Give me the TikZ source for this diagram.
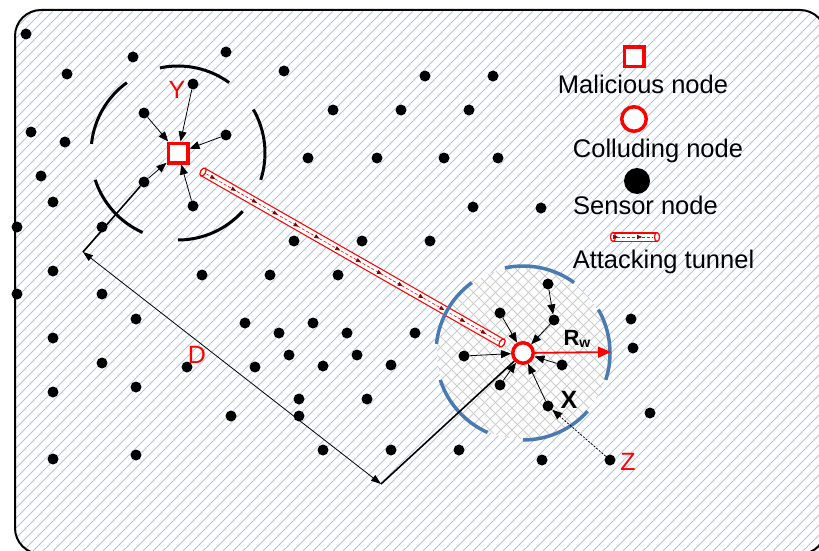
\documentclass[tikz,border=0pt]{standalone}
\usepackage{fontspec}
\setmainfont{Liberation Sans}
\usetikzlibrary{arrows.meta,calc,shapes.geometric,decorations.markings}

\definecolor{hatchblue}{RGB}{172,195,232}
\definecolor{ringblue}{RGB}{74,122,178}
\definecolor{meshgray}{RGB}{205,205,205}

\tikzset{
 sensor/.style={circle,fill=black,inner sep=0pt,minimum size=11pt},
 malicious/.style={draw=red,line width=3.5pt,fill=white,inner sep=0pt,minimum size=19.5pt},
 colluding/.style={circle,draw=red,line width=3.5pt,fill=white,inner sep=0pt,minimum size=20.5pt},
 feed/.style={line width=0.8pt,-{Triangle[length=10pt,width=8pt]}},
 ring/.style={line width=3pt},
 tube/.style={red,line width=1.2pt,double=white,double distance=7pt},
 tubecap/.style={ellipse,draw=red,line width=1.2pt,fill=white,inner sep=0pt,minimum width=5pt,minimum height=9pt},
 tubeflow/.style={red,line width=0.6pt,dash pattern=on 3pt off 2pt,postaction={decorate},
  decoration={markings,mark=between positions 0.03 and 1 step 24pt with {\arrow[red!50!black]{Triangle[length=5pt,width=4pt]}}}},
 lbl/.style={red,anchor=base,font=\fontsize{25}{28}\selectfont},
 legtext/.style={anchor=base,font=\fontsize{25.5}{28}\selectfont},
}

\begin{document}
\begin{tikzpicture}[x=1pt,y=-1pt]
\useasboundingbox (0,0) rectangle (819,551);

% the field
\begin{scope}
\clip [rounded corners=26pt] (15,10) rectangle (826,554);
\foreach \i in {-540,-530,...,830}
 \draw [hatchblue,line width=1pt] (\i,554)--(\i+544,10);
\end{scope}
\draw [line width=2pt,rounded corners=26pt] (15,10) rectangle (826,554);

% area around the colluding node
\coordinate (cc) at (523,353);
\coordinate (yc) at (178,153);
\begin{scope}
\clip (cc) circle (86pt);
\fill [white] (cc) circle (86pt);
\foreach \i in {-187,-176,...,187} {
 \draw [meshgray,line width=0.9pt] ([shift={(\i-100,-100)}]cc)--([shift={(\i+100,100)}]cc);
 \draw [meshgray,line width=0.9pt] ([shift={(\i-100,100)}]cc)--([shift={(\i+100,-100)}]cc);
}
\end{scope}

% tunnel
\coordinate (t1) at (203,172);
\coordinate (t2) at (502,343);
\draw [tube] (t1)--(t2);
\path (t1)--(t2) node [tubecap,sloped,pos=0] (ta) {} node [tubecap,sloped,pos=1] (tb) {};
\coordinate (f1) at ($(t1)!4pt!(t2)$);
\coordinate (f2) at ($(t2)!4pt!(t1)$);
\draw [tubeflow] (f1)--(f2);

% radio ranges
\foreach \a in {-18,54,126,198,270} {
 \draw [ring] ([shift={(\a:87pt)}]yc) arc [start angle=\a,delta angle=48,radius=87pt];
 \draw [ring,ringblue,line width=3.5pt] ([shift={(\a:87pt)}]cc) arc [start angle=\a,delta angle=48,radius=87pt];
}

% sensors
\foreach \p [count=\k] in {(26,34),(133,57),(226,52),(67,74),(284,71),(425,76),(493,76),
 (333,110),(401,110),(469,110),(31,132),(65,142),(308,158),(377,158),(444,158),(498,158),
 (41,176),(53,202),(17,227),(102,227),(294,241),(362,241),(430,241),(473,207),(541,208),
 (53,271),(202,275),(270,275),(338,275),(17,294),(102,294),(136,319),(245,323),(313,323),
 (279,333),(347,333),(415,333),(53,338),(102,363),(187,367),(255,367),(289,355),(323,366),
 (357,355),(391,365),(53,392),(136,387),(299,399),(367,399),(231,416),(299,416),(323,450),
 (391,450),(53,459),(136,455),(631,319),(633,348),(650,413),(459,450),(542,460)}
 \node [sensor] (s\k) at \p {};

\node [sensor] (y1) at (193,84) {};
\node [sensor] (y2) at (144,113) {};
\node [sensor] (y3) at (144,182) {};
\node [sensor] (y4) at (226,135) {};
\node [sensor] (y5) at (193,206) {};

\node [sensor] (c1) at (548,284) {};
\node [sensor] (c2) at (554,320) {};
\node [sensor] (c3) at (500,313) {};
\node [sensor] (c4) at (464,356) {};
\node [sensor] (c5) at (562,365) {};
\node [sensor] (c6) at (500,385) {};
\node [sensor] (x) at (548,406) {};
\node [sensor] (z) at (610,460) {};

\node [malicious] (Y) at (yc) {};
\node [colluding] (C) at (cc) {};

% traffic to Y and C
\foreach \s in {y1,y2,y3,y4,y5}
 \draw [feed] (\s)--(Y);
\draw [feed] (c1)--(c2);
\foreach \s in {c2,c3,c4,c5,c6,x}
 \draw [feed] (\s)--(C);
\draw [feed,dash pattern=on 2pt off 1.5pt] (z)--(x);

% distance D
\coordinate (dy) at (83,252);
\coordinate (dc) at (381,484);
\draw [line width=1.6pt] (dy)--(y3);
\draw [line width=1.6pt] (dc)--(C);
\draw [line width=0.8pt,{Triangle[length=10pt,width=7pt]}-{Triangle[length=10pt,width=7pt]}] (dy)--(dc);

% range R_w
\coordinate (rw) at (611,352);
\draw [red,line width=1.8pt,-{Triangle[length=13pt,width=11pt]}] (C)--(rw);

\node [lbl] (ylab) at (177,99) {Y};
\node [lbl] (dlab) at (197,363) {D};
\node [lbl] (zlab) at (628,470) {Z};
\node [anchor=base,font=\bfseries\fontsize{25}{28}\selectfont] (xlab) at (569,408) {X};
\node [anchor=base west,font=\bfseries\fontsize{22}{24}\selectfont] (rwlab) at (560,345)
 {R\raisebox{-2pt}{\fontsize{14}{14}\selectfont w}};

% legend
\node [malicious] (legm) at (634,57) {};
\node [legtext] (legmt) at (643,93) {Malicious node};
\node [colluding,minimum size=24.5pt] (legc) at (634,119) {};
\node [legtext] (legct) at (658,157) {Colluding node};
\node [sensor,minimum size=26pt] (legs) at (637,181) {};
\node [legtext] (legst) at (645.5,214) {Sensor node};
\coordinate (k1) at (613,237);
\coordinate (k2) at (657,237);
\draw [tube] (k1)--(k2);
\path (k1)--(k2) node [tubecap,sloped,pos=0] (ka) {} node [tubecap,sloped,pos=1] (kb) {};
\coordinate (g1) at ($(k1)!4pt!(k2)$);
\coordinate (g2) at ($(k2)!4pt!(k1)$);
\draw [tubeflow] (g1)--(g2);
\node [legtext] (legtt) at (663.5,268) {Attacking tunnel};

\end{tikzpicture}
\end{document}
